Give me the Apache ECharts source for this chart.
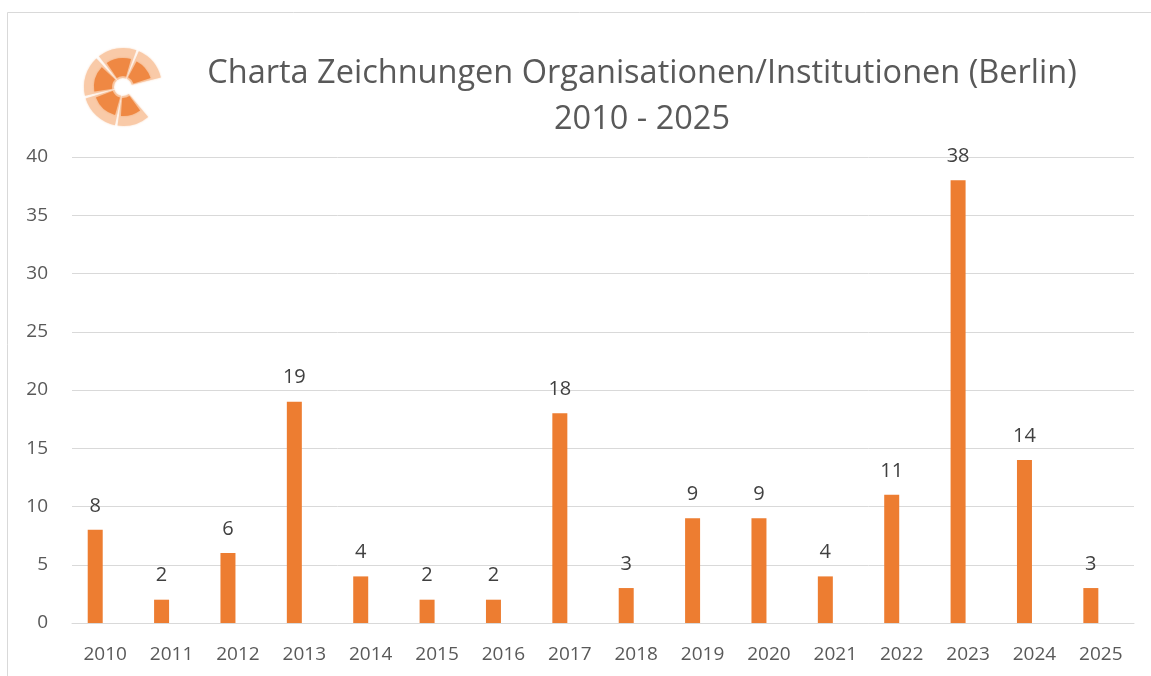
<!DOCTYPE html>
<html>
<head>
<meta charset="utf-8">
<style>html,body{margin:0;padding:0;background:#fff}#c{width:1151px;height:676px}</style>
<script src="https://cdn.jsdelivr.net/npm/echarts@6/dist/echarts.min.js"></script>
</head>
<body>
<div id="c"></div>
<script>
const years = ['2010','2011','2012','2013','2014','2015','2016','2017','2018','2019','2020','2021','2022','2023','2024','2025'];
const counts = [8,2,6,19,4,2,2,18,3,9,9,4,11,38,14,3];
const titleLines = ['Charta Zeichnungen Organisationen/Institutionen (Berlin)', '2010 - 2025'];
const yTicks = {min: 0, max: 40, step: 5};

const chart = echarts.init(document.getElementById('c'), null, {renderer: 'canvas'});
const FONT = 'Open Sans';
const deg = Math.PI / 180;
const cx = 123, cy = 87;
const segs = [[-128,-70],[-66,-14],[167,227],[102,163],[50,98]];
const logo = [];
segs.forEach(s => {
  logo.push({type:'sector', shape:{cx:cx, cy:cy, r0:9, r:39, startAngle:s[0]*deg, endAngle:s[1]*deg}, style:{fill:'#f9caa8', shadowBlur:2, shadowColor:'rgba(249,202,168,0.8)'}, silent:true});
  logo.push({type:'sector', shape:{cx:cx, cy:cy, r0:11, r:29, startAngle:(s[0]+4)*deg, endAngle:(s[1]-4)*deg}, style:{fill:'#ef8843', shadowBlur:2, shadowColor:'rgba(239,136,67,0.6)'}, silent:true});
});

chart.setOption({
  animation: false,
  backgroundColor: '#fff',
  title: {
    text: titleLines.join('\n'),
    left: 637, top: 46, textAlign: 'center',
    textStyle: {fontFamily: FONT, fontSize: 32.5, fontWeight: 'normal', color: '#595959', lineHeight: 46}
  },
  graphic: [
    {type:'rect', shape:{x:7.5, y:12.5, width:1200, height:700}, style:{fill:'none', stroke:'#d9d9d9', lineWidth:1}, silent:true, z:-1}
  ].concat(logo),
  grid: {left: 72, right: 17, top: 157, bottom: 53, containLabel: false},
  xAxis: {
    type: 'category', data: years,
    axisLine: {show: true, lineStyle: {color: '#d9d9d9', width: 1}},
    axisTick: {show: false},
    axisLabel: {color: '#595959', fontFamily: FONT, fontSize: 19, margin: 22, interval: 0}
  },
  yAxis: {
    type: 'value', min: yTicks.min, max: yTicks.max, interval: yTicks.step,
    axisLine: {show: false}, axisTick: {show: false},
    splitLine: {lineStyle: {color: '#d9d9d9', width: 1}},
    axisLabel: {color: '#595959', fontFamily: FONT, fontSize: 19, margin: 24}
  },
  series: [
    {type: 'bar', data: counts, barWidth: 15, barGap: '33%',
     itemStyle: {color: '#ED7D31'},
     label: {show: true, position: 'top', distance: 14, color: '#404040', fontFamily: FONT, fontSize: 20}},
    {type: 'bar', data: counts.map(() => null), barWidth: 15}
  ]
});
</script>
</body>
</html>
